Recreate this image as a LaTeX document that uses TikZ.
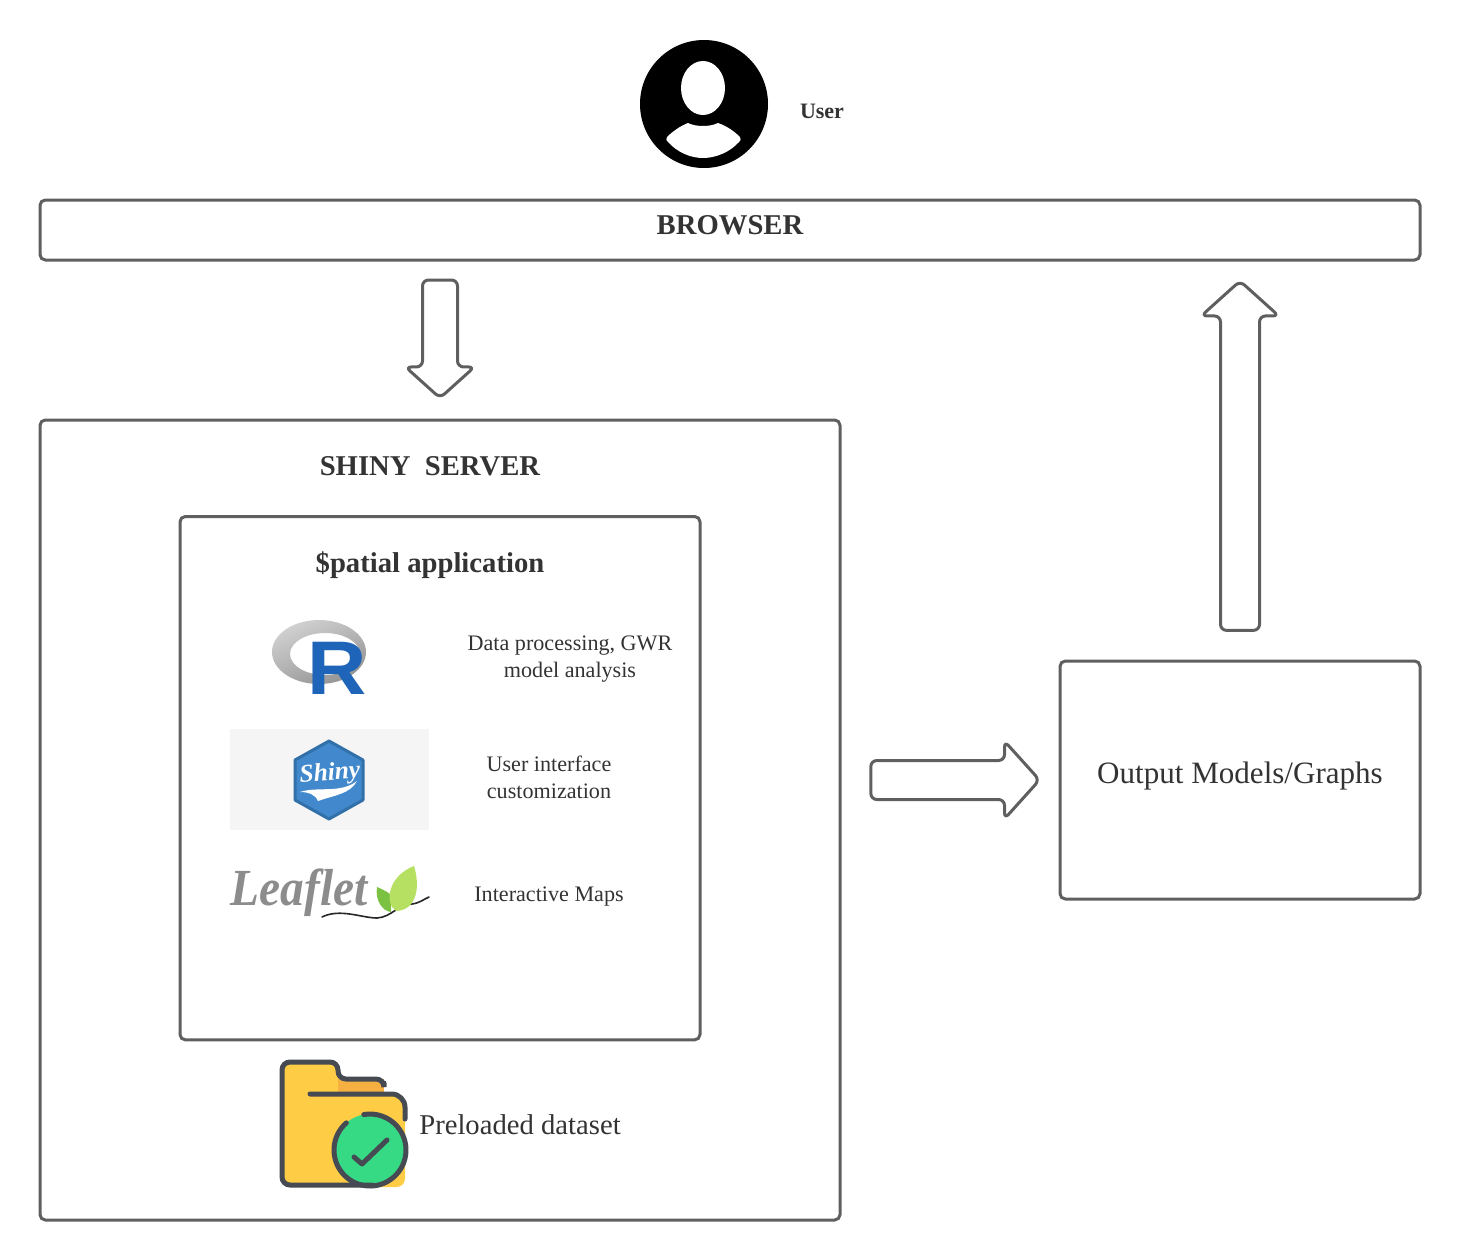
\documentclass[tikz,border=0pt]{standalone}
\usepackage{fontspec}
\setmainfont{Liberation Serif}
\newfontfamily\logosans{Liberation Sans}
\usepackage{xcolor}
\usetikzlibrary{positioning,shapes.arrows}
\definecolor{linegrey}{HTML}{5F5F5F}
\definecolor{textgrey}{HTML}{333333}
\definecolor{foldergrey}{HTML}{464A53}
\definecolor{folderyellow}{HTML}{FFCD45}
\definecolor{folderorange}{HTML}{F5B041}
\definecolor{checkgreen}{HTML}{36DA84}
\definecolor{rblue}{HTML}{1E64B8}
\definecolor{shinyblue}{HTML}{4189CC}
\definecolor{shinyedge}{HTML}{3170A8}
\definecolor{leafbig}{HTML}{B5E061}
\definecolor{leafsmall}{HTML}{7CC242}
\tikzset{
  framebox/.style={draw=linegrey,line width=2.25pt,rounded corners=4pt,anchor=north west,outer sep=0pt,inner sep=0pt},
  blockarrow/.style={single arrow,draw=linegrey,line width=2.25pt,rounded corners=4.5pt,
    single arrow head extend=14.5pt,single arrow tip angle=96,outer sep=0pt,anchor=tip},
  boldlabel/.style={font=\fontsize{21.5}{26}\selectfont\bfseries,text=textgrey,inner sep=0pt},
  biglabel/.style={font=\fontsize{21.5}{26}\selectfont,text=textgrey,inner sep=0pt},
  rowlabel/.style={font=\fontsize{16.6}{20}\selectfont,text=textgrey,align=center,inner sep=0pt}
}
\begin{document}
\begin{tikzpicture}[x=0.75pt,y=-0.75pt]
  \useasboundingbox (0,0) rectangle (1460,1260);
  % user icon
  \fill[black] (704,104) circle [radius=64];
  \fill[white] (703,88) ellipse [x radius=22,y radius=27];
  \fill[white] (667,137) .. controls (672,132) and (680,126) .. (688,123)
    .. controls (696,127) and (710,127) .. (718,123)
    .. controls (727,126) and (735,132) .. (740,137)
    .. controls (741,139) and (741,141) .. (739,142)
    .. controls (730,152) and (716,158) .. (703,158)
    .. controls (690,158) and (677,152) .. (668,142)
    .. controls (666,141) and (666,139) .. (667,137) -- cycle;
  \node[font=\fontsize{16.5}{20}\selectfont\bfseries,text=textgrey,inner sep=0pt] (user) at (822,111) {User};
  % main boxes
  \node[framebox,minimum width=1035pt,minimum height=45pt] (browser) at (40,200) {};
  \node[boldlabel] (browsertitle) at (730,225) {BROWSER};
  \node[framebox,minimum width=600pt,minimum height=600pt] (server) at (40,420) {};
  \node[boldlabel] (servertitle) at (430,466) {SHINY\ \ SERVER};
  \node[framebox,minimum width=390pt,minimum height=392.5pt] (spatial) at (180,516.5) {};
  \node[boldlabel] (spatialtitle) at (430,565) {\$patial application};
  \node[framebox,minimum width=270pt,minimum height=178.5pt] (output) at (1060,661) {};
  \node[font=\fontsize{23.3}{28}\selectfont,text=textgrey,inner sep=0pt] (outputtitle) at (1240,776) {Output Models/Graphs};
  % block arrows
  \node[blockarrow,shape border rotate=270,inner xsep=12pt,inner ysep=0pt,single arrow head extend=12.75pt,minimum height=88.5pt] (downarrow) at (440,398) {};
  \node[blockarrow,shape border rotate=90,inner xsep=13.5pt,inner ysep=0pt,minimum height=262pt] (uparrow) at (1240,281) {};
  \node[blockarrow,inner xsep=0pt,inner ysep=13.5pt,minimum height=126.5pt] (rightarrow) at (1039.5,780) {};
  % R logo
  \shade[even odd rule,left color=black!18,right color=black!42,shading angle=25]
    (319,652) ellipse [x radius=47,y radius=32] (325,654) ellipse [x radius=35,y radius=21];
  \node[font=\logosans\fontsize{57}{60}\selectfont\bfseries,text=rblue,inner sep=0pt,xscale=1.08] (rlogo) at (337,668) {R};
  \node[rowlabel] (rlabel) at (570,659) {Data processing, GWR\\model analysis};
  % Shiny logo
  \fill[black!4] (230,729) rectangle (429,830);
  \draw[draw=shinyedge,fill=shinyblue,line width=2.25pt,line join=round]
    (329,741) -- (363,760) -- (363,800) -- (329,819) -- (295,800) -- (295,760) -- cycle;
  \node[font=\fontsize{19}{24}\selectfont\bfseries\itshape,text=white,inner sep=0pt,rotate=4] (shinylogo) at (330,774) {Shiny};
  \fill[white] (300,792) .. controls (318,786) and (340,794) .. (357,781)
    .. controls (350,794) and (335,795) .. (318,801)
    .. controls (315,794) and (308,792) .. (300,792) -- cycle;
  \node[rowlabel] (shinylabel) at (549,777) {User interface\\customization};
  % Leaflet logo
  \node[font=\fontsize{35.5}{44}\selectfont\bfseries\itshape,text=black!45,inner sep=0pt,yscale=1.1] (leafletlogo) at (299,893) {Leaflet};
  \draw[black!85,line width=1.2pt,line cap=round] (322,917) .. controls (340,908) and (362,918) .. (377,918)
    .. controls (392,917) and (398,904) .. (412,904) .. controls (420,903) and (424,899) .. (429,897);
  \fill[leafsmall] (377,887) .. controls (384,890) and (388,892) .. (391,895)
    -- (391,912) .. controls (382,911) and (375,900) .. (377,887) -- cycle;
  \fill[leafbig] (414,866) .. controls (420,885) and (418,910) .. (396,911)
    .. controls (384,903) and (388,876) .. (414,866) -- cycle;
  \node[rowlabel] (leafletlabel) at (549,897) {Interactive Maps};
  % dataset icon
  \fill[folderorange] (338,1079) rectangle (384,1096);
  \fill[folderyellow] (282,1069) .. controls (282,1064) and (285,1062) .. (289,1062) -- (330,1062)
    .. controls (335,1062) and (338,1066) .. (338,1070) -- (338,1094) -- (392,1094)
    .. controls (400,1094) and (405,1100) .. (405,1107) -- (405,1178)
    .. controls (405,1184) and (401,1187) .. (396,1187) -- (291,1187)
    .. controls (285,1187) and (282,1183) .. (282,1178) -- cycle;
  \fill[checkgreen] (370,1150) circle [radius=36];
  \draw[foldergrey,line width=3.75pt,line cap=round,rounded corners=6pt]
    (384,1083) -- (384,1079) -- (338,1079) -- (338,1062) -- (282,1062) -- (282,1185) -- (372,1185);
  \draw[foldergrey,line width=3.75pt,line cap=round,rounded corners=10pt]
    (310,1094) -- (405,1094) -- (405,1119);
  \draw[foldergrey,line width=3.75pt,line cap=round] (370,1150) ++(229:36) arc [start angle=229,end angle=-100,radius=36];
  \draw[foldergrey,line width=3.75pt,line cap=round,line join=round] (354,1157) -- (362,1164) -- (387,1140);
  \node[biglabel] (datasetlabel) at (520,1125) {Preloaded dataset};
\end{tikzpicture}
\end{document}
